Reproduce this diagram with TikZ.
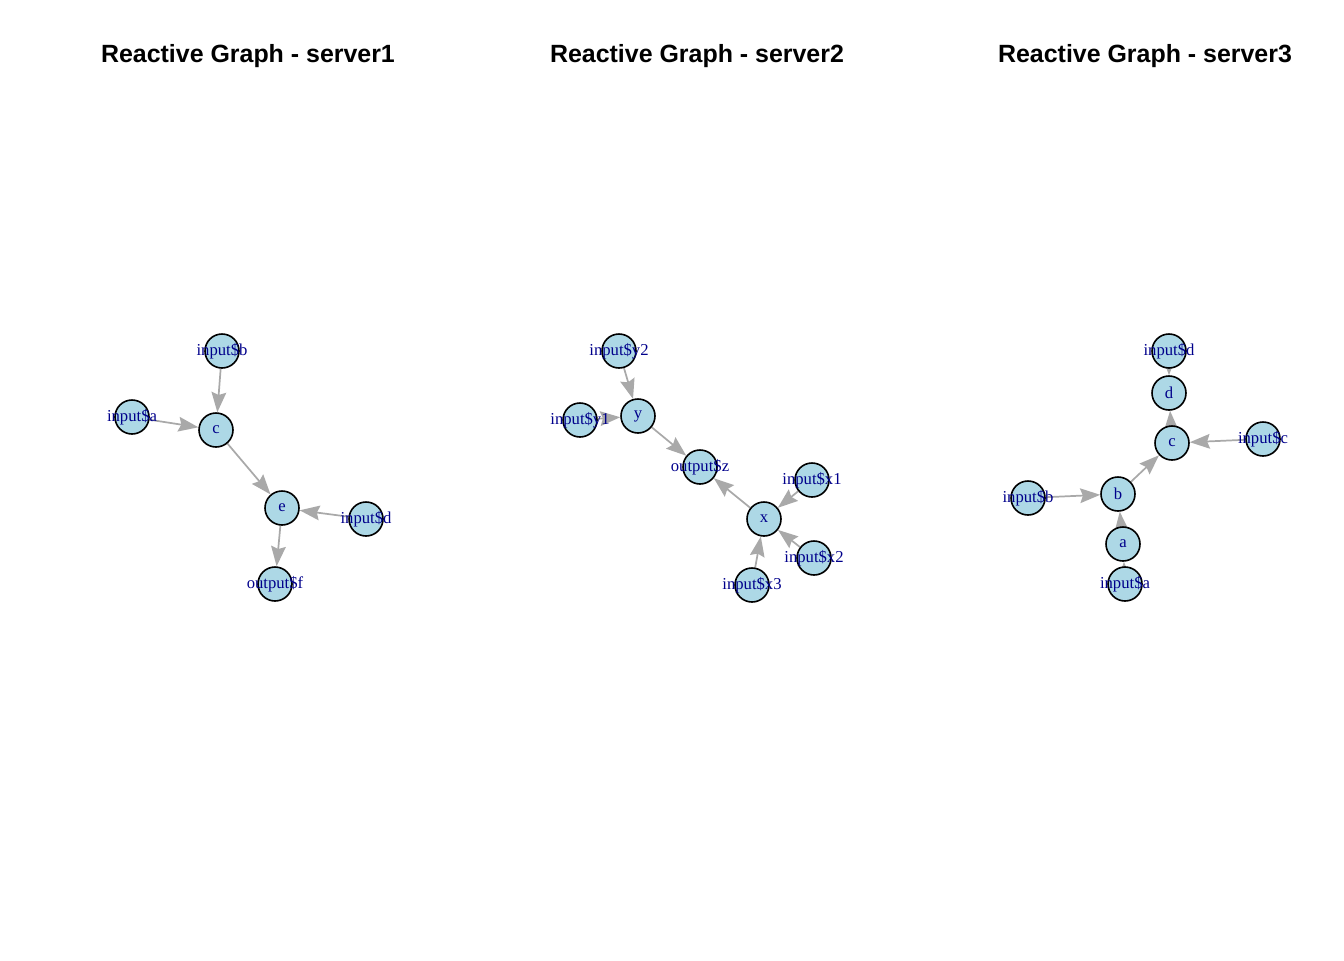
\documentclass[tikz,border=0pt]{standalone}
\usepackage{fontspec}
\setmainfont{Liberation Serif}
\newfontfamily\titlefont{Liberation Sans}
\usepackage{tikz}
\usetikzlibrary{arrows.meta,backgrounds}
\definecolor{vtxblue}{RGB}{173,216,230}
\definecolor{lbldarkblue}{RGB}{0,0,139}
\definecolor{depgray}{RGB}{169,169,169}

\begin{document}
\begin{tikzpicture}[
  x=0.75pt,
  y=-0.75pt,
  vtx/.style={
    circle,
    draw=black,
    line width=1.2pt,
    fill=vtxblue,
    minimum size=25.5pt,
    inner sep=0pt,
    text=lbldarkblue,
    font=\fontsize{12.5}{13}\selectfont,
    execute at begin node={\hbox to 0pt\bgroup\hss},
    execute at end node={\hss\egroup}
    },
  graphtitle/.style={
    anchor=base,
    font=\titlefont\bfseries\fontsize{18.7}{22}\selectfont
    },
  dep/.style={
    draw=depgray,
    line width=1.3pt,
    -{Stealth[length=15pt,width=11pt,inset=2pt]}
    }
]
\useasboundingbox (0,0) rectangle (1344,960);

% titles
\node[graphtitle] (t1) at (248,62) {Reactive Graph - server1};
\node[graphtitle] (t2) at (697,62) {Reactive Graph - server2};
\node[graphtitle] (t3) at (1145,62) {Reactive Graph - server3};

% server1
\node[vtx] (s1ib) at (222,351) {input\$b};
\node[vtx] (s1ia) at (132,417) {input\$a};
\node[vtx] (s1c)  at (216,430) {c};
\node[vtx] (s1e)  at (282,508) {e};
\node[vtx] (s1id) at (366,519) {input\$d};
\node[vtx] (s1of) at (275,584) {output\$f};

% server2
\node[vtx] (s2iy2) at (619,351) {input\$y2};
\node[vtx] (s2y)   at (638,416) {y};
\node[vtx] (s2iy1) at (580,420) {input\$y1};
\node[vtx] (s2oz)  at (700,467) {output\$z};
\node[vtx] (s2ix1) at (812,480) {input\$x1};
\node[vtx] (s2x)   at (764,519) {x};
\node[vtx] (s2ix2) at (814,558) {input\$x2};
\node[vtx] (s2ix3) at (752,585) {input\$x3};

% server3
\node[vtx] (s3id) at (1169,351) {input\$d};
\node[vtx] (s3d)  at (1169,393) {d};
\node[vtx] (s3c)  at (1172,443) {c};
\node[vtx] (s3ic) at (1263,439) {input\$c};
\node[vtx] (s3ib) at (1028,498) {input\$b};
\node[vtx] (s3b)  at (1118,494) {b};
\node[vtx] (s3a)  at (1123,544) {a};
\node[vtx] (s3ia) at (1125,584) {input\$a};

\begin{pgfonlayer}{background}
  \draw[dep] (s1ib) -- (s1c);
  \draw[dep] (s1ia) -- (s1c);
  \draw[dep] (s1c) -- (s1e);
  \draw[dep] (s1id) -- (s1e);
  \draw[dep] (s1e) -- (s1of);

  \draw[dep] (s2iy2) -- (s2y);
  \draw[dep] (s2iy1) -- (s2y);
  \draw[dep] (s2y) -- (s2oz);
  \draw[dep] (s2x) -- (s2oz);
  \draw[dep] (s2ix1) -- (s2x);
  \draw[dep] (s2ix2) -- (s2x);
  \draw[dep] (s2ix3) -- (s2x);

  \draw[dep] (s3id) -- (s3d);
  \draw[dep] (s3c) -- (s3d);
  \draw[dep] (s3ic) -- (s3c);
  \draw[dep] (s3b) -- (s3c);
  \draw[dep] (s3ib) -- (s3b);
  \draw[dep] (s3a) -- (s3b);
  \draw[dep] (s3ia) -- (s3a);
\end{pgfonlayer}

\end{tikzpicture}
\end{document}
